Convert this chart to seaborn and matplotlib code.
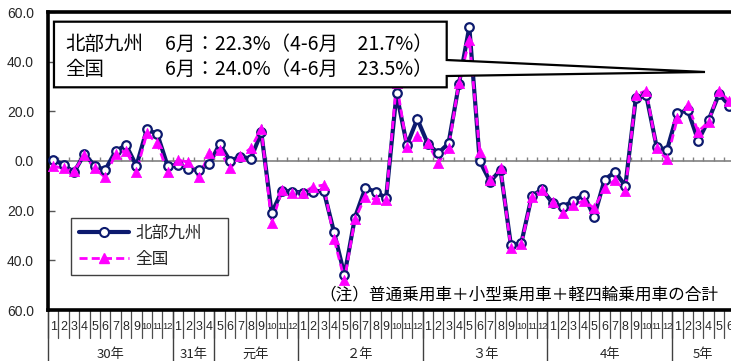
import numpy as np
import pandas as pd
import matplotlib
matplotlib.use("Agg")
import matplotlib.pyplot as plt
import seaborn as sns
import matplotlib.transforms as mtransforms
from matplotlib.patches import Polygon
from matplotlib.lines import Line2D
from matplotlib import font_manager as fm

# ---------------- data ----------------
year_labels = ["30年", "31年", "元年", "２年", "３年", "4年", "5年"]
year_first_month = [1, 1, 5, 1, 1, 1, 1]
year_month_count = [12, 4, 8, 12, 12, 12, 6]

series_names = ["北部九州", "全国"]

kyushu = [0.5, -1.5, -4.5, 2.8, -2.0, -3.6, 4.0, 6.4, -1.9, 12.7, 10.9, -2.0,
          -1.6, -3.2, -3.6, -1.2,
          6.8, 0.1, 1.7, 1.0, 11.5, -21.0, -12.0, -12.3,
          -12.7, -12.3, -12.0, -28.7, -46.0, -22.8, -11.0, -12.3, -15.0, 27.2, 6.4, 16.9,
          7.0, 3.1, 7.1, 31.0, 54.0, 0.0, -8.3, -3.6, -34.0, -33.0, -14.1, -11.4,
          -17.0, -18.4, -16.0, -13.7, -22.4, -7.6, -4.3, -10.0, 25.2, 26.6, 5.8, 4.4,
          19.2, 20.5, 8.2, 16.5, 27.0, 22.3]

zenkoku = [-2.0, -3.0, -4.0, 2.3, -3.0, -6.6, 3.0, 4.2, -4.3, 11.1, 7.1, -4.3,
           0.4, -0.5, -6.6, 3.1,
           4.4, -3.0, 2.0, 5.1, 13.0, -25.0, -11.7, -12.7,
           -12.9, -10.3, -9.7, -31.4, -47.9, -23.5, -14.4, -15.5, -15.7, 31.5, 5.8, 10.0,
           7.4, -0.7, 5.1, 31.6, 48.7, 3.8, -7.6, -3.0, -35.0, -33.5, -14.4, -11.5,
           -16.4, -20.8, -17.7, -16.0, -19.0, -11.0, -7.6, -12.0, 26.6, 28.3, 5.1, 0.7,
           17.2, 22.5, 11.8, 15.8, 28.3, 24.0]

ytick_values = [60, 40, 20, 0, -20, -40, -60]
ytick_labels = ["60.0", "40.0", "20.0", "0.0", "20.0", "40.0", "60.0"]

box_labels = ["北部九州", "全国"]
box_values = ["6月：22.3%（4-6月　21.7%）", "6月：24.0%（4-6月　23.5%）"]
note_text = "（注）普通乗用車＋小型乗用車＋軽四輪乗用車の合計"

# ---------------- derived ----------------
month_labels = []
for s, c in zip(year_first_month, year_month_count):
    month_labels += [str(m) for m in range(s, s + c)]
n = len(month_labels)
df = pd.DataFrame({"x": np.arange(n), "kyushu": kyushu, "zenkoku": zenkoku})

sns.set_theme(style="white")
plt.rcParams["font.family"] = ["Noto Sans CJK JP", "DejaVu Sans"]

installed = {f.name for f in fm.fontManager.ttflist}
if "Liberation Sans Narrow" in installed:
    month_family = ["Liberation Sans Narrow", "DejaVu Sans"]
    size_one, size_two = 10.0, 8.2
else:
    month_family = ["Liberation Sans", "DejaVu Sans"]
    size_one, size_two = 9.0, 6.7

NAVY = "#0c1a6e"
MAG = "#ff00ff"
GRID = "#808080"
TXT = "#262626"

fig = plt.figure(figsize=(7.31, 3.61), dpi=100)
fig.patch.set_facecolor("white")
ax = fig.add_axes([48 / 731, 51 / 361, 686.6 / 731, 298 / 361])
ax.set_facecolor("white")

# zero line and small ticks at the category boundaries
bounds = np.arange(n + 1) - 0.5
ax.axhline(0, color=GRID, lw=1.2, zorder=1)
ax.vlines(bounds, 0, 1.6, color=GRID, lw=1.0, zorder=1)

# series lines
sns.lineplot(data=df, x="x", y="kyushu", ax=ax, color=NAVY, lw=3.0, zorder=2)
ax.lines[-1].set_solid_joinstyle("miter")
sns.lineplot(data=df, x="x", y="zenkoku", ax=ax, color=MAG, lw=2.0, zorder=3)
ax.lines[-1].set_dashes((2.9, 1.5))

# markers
sns.scatterplot(data=df, x="x", y="kyushu", ax=ax, marker="o", s=38,
                color="white", edgecolor=NAVY, linewidth=1.6, zorder=4)
sns.scatterplot(data=df, x="x", y="zenkoku", ax=ax, marker="^", s=55,
                color=MAG, edgecolor=MAG, linewidth=0.5, zorder=5)

ax.set_xlim(-0.5, n - 0.5)
ax.set_ylim(-60, 60)
ax.set_xticks([])
ax.set_xlabel("")
ax.set_ylabel("")
ax.set_yticks(ytick_values)
ax.set_yticklabels(ytick_labels, fontfamily=["Liberation Sans", "DejaVu Sans"],
                   fontsize=10, color=TXT)
ax.tick_params(axis="y", left=True, direction="in", length=5, width=1,
               color="#555555", pad=10)
for sp in ["left", "bottom", "top"]:
    ax.spines[sp].set_linewidth(2.6)
    ax.spines[sp].set_color("black")
ax.spines["right"].set_visible(False)

# category table below the plot
trans = mtransforms.blended_transform_factory(ax.transData, ax.transAxes)
year_edges = np.cumsum([0] + year_month_count) - 0.5
for b in bounds:
    ax.plot([b, b], [0, -0.094], transform=trans, color="#4d4d4d", lw=0.9,
            clip_on=False, zorder=1)
for b in year_edges:
    ax.plot([b, b], [0, -0.25], transform=trans, color="#404040", lw=1.0,
            clip_on=False, zorder=1)
for i, lab in enumerate(month_labels):
    ax.text(i, -0.057, lab, transform=trans, ha="center", va="center",
            color=TXT, clip_on=False, family=month_family,
            size=size_one if len(lab) == 1 else size_two)
for k, lab in enumerate(year_labels):
    cx = (year_edges[k] + year_edges[k + 1]) / 2
    ax.text(cx, -0.148, lab, transform=trans, ha="center", va="center",
            fontsize=9.5, color=TXT, clip_on=False)

# call-out box
Lx, Rx, T, Bt = 0.0087, 0.5807, 0.9675, 0.7473
tip = (0.9569, 0.7987)
poly = Polygon([(Lx, Bt), (Lx, T), (Rx, T), (Rx, 0.8389), tip, (Rx, 0.7852), (Rx, Bt)],
               closed=True, transform=ax.transAxes, facecolor="white",
               edgecolor="black", lw=1.6, zorder=6, clip_on=False)
ax.add_patch(poly)
for yy, lab, val in zip([0.891, 0.807], box_labels, box_values):
    ax.text(0.0248, yy, lab, transform=ax.transAxes, ha="left", va="center",
            fontsize=14, color="black", zorder=7)
    ax.text(0.1704, yy, val, transform=ax.transAxes, ha="left", va="center",
            fontsize=14, color="black", zorder=7)

# note
ax.text(0.9758, 0.0503, note_text, transform=ax.transAxes, ha="right",
        va="center", fontsize=12, color="black", zorder=7)

# legend
handles = [
    Line2D([], [], color=NAVY, lw=3.0, marker="o", markersize=6.5,
           markerfacecolor="white", markeredgecolor=NAVY, markeredgewidth=1.5),
    Line2D([], [], color=MAG, lw=2.0, dashes=(2.9, 1.5), marker="^",
           markersize=7.5, markerfacecolor=MAG, markeredgecolor=MAG),
]
leg = ax.legend(handles, series_names, loc="lower left",
                bbox_to_anchor=(0.0335, 0.1174, 0.2287, 0.198), mode="expand",
                borderaxespad=0, frameon=True, fancybox=False, framealpha=1,
                edgecolor="#404040", fontsize=12, handlelength=3.0,
                handletextpad=0.4, borderpad=0.45, labelspacing=0.5)
leg.get_frame().set_linewidth(1.0)
leg.set_zorder(8)

fig.savefig("out.png", dpi=100, facecolor="white")
